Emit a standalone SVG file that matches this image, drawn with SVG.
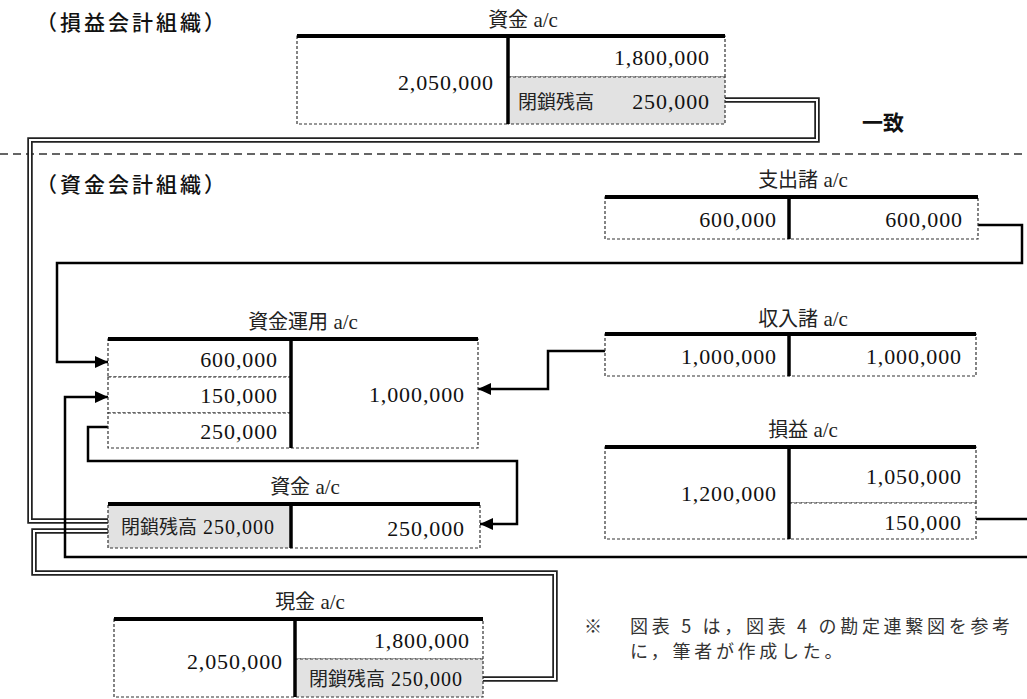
<svg xmlns="http://www.w3.org/2000/svg" xmlns:xlink="http://www.w3.org/1999/xlink" width="1027" height="699" viewBox="0 0 1027 699">
<defs>
<style>
.bg{fill:#fff}
.cell{fill:#fff;stroke:#333;stroke-width:1.2;stroke-dasharray:3 2}
.gray{fill:#e2e2e2;stroke:#333;stroke-width:1.2;stroke-dasharray:3 2}
.thick{stroke:#000;stroke-width:4;fill:none}
.div{stroke:#000;stroke-width:3.5;fill:none}
.num{font-family:'Liberation Serif','Times New Roman',serif;font-size:22px;letter-spacing:0.9px;fill:#111}
.jp{font-family:'Noto Sans CJK JP',sans-serif;font-size:19px;fill:#222}
.title{font-family:'Noto Sans CJK JP',sans-serif;font-size:20px;fill:#222;text-anchor:middle}
.ac{font-family:'Liberation Serif','Times New Roman',serif;font-size:21px}
.lbl{font-family:'Noto Sans CJK JP',sans-serif;font-size:21px;font-weight:500;fill:#111;letter-spacing:3px}
.note{font-family:'Noto Sans CJK JP',sans-serif;font-size:18px;fill:#333;letter-spacing:3.7px}
.line{stroke:#000;stroke-width:2.5;fill:none}
.dblo{stroke:#222;stroke-width:5.5;fill:none}
.dbli{stroke:#fff;stroke-width:2;fill:none}
.dash{stroke:#333;stroke-width:1.5;stroke-dasharray:8 5;fill:none}
</style>
<marker id="arr" markerUnits="userSpaceOnUse" markerWidth="13" markerHeight="12" refX="13" refY="6" orient="auto">
<path d="M0,0 L13,6 L0,12 z" fill="#000"/>
</marker>
<path id="d1" d="M725,100 H817 V140 H30 V521 H108"/>
<path id="d2" d="M108,531 H34 V573 H555 V679 H483"/>
</defs>
<rect class="bg" x="0" y="0" width="1027" height="699"/>

<g id="labels">
<text class="lbl" x="36" y="30">（損益会計組織）</text>
<text class="lbl" x="36" y="192">（資金会計組織）</text>
<text class="lbl" x="862" y="130" style="font-weight:700;letter-spacing:0">一致</text>
<path class="dash" d="M0,154 H1027"/>
</g>

<g id="connectors">
<use xlink:href="#d1" class="dblo"/>
<use xlink:href="#d1" class="dbli"/>
<use xlink:href="#d2" class="dblo"/>
<use xlink:href="#d2" class="dbli"/>
<path class="line" d="M978,225 H1022 V263 H57 V362 H108" marker-end="url(#arr)"/>
<path class="line" d="M605,351 H548 V389 H478" marker-end="url(#arr)"/>
<path class="line" d="M976,519 H1035 V557 H65 V397 H108" marker-end="url(#arr)"/>
<path class="line" d="M108,427 H88 V461 H517 V524 H480" marker-end="url(#arr)"/>
</g>

<g id="shikin-top">
<text class="title" x="523" y="27">資金<tspan class="ac"> a/c</tspan></text>
<rect class="cell" x="297" y="36" width="211" height="88"/>
<rect class="cell" x="508" y="36" width="217" height="41"/>
<rect class="gray" x="508" y="77" width="217" height="47"/>
<path class="thick" d="M297,36 H725"/>
<path class="div" d="M508,36 V124"/>
<text class="num" x="494" y="90" text-anchor="end">2,050,000</text>
<text class="num" x="710" y="65" text-anchor="end">1,800,000</text>
<text class="jp" x="518" y="109">閉鎖残高</text>
<text class="num" x="710" y="109" text-anchor="end">250,000</text>
</g>

<g id="shishutsu">
<text class="title" x="803" y="187">支出諸<tspan class="ac"> a/c</tspan></text>
<rect class="cell" x="605" y="197" width="184" height="42"/>
<rect class="cell" x="789" y="197" width="189" height="42"/>
<path class="thick" d="M605,197 H978"/>
<path class="div" d="M789,197 V239"/>
<text class="num" x="777" y="227" text-anchor="end">600,000</text>
<text class="num" x="963" y="227" text-anchor="end">600,000</text>
</g>

<g id="shikin-unyo">
<text class="title" x="303" y="329">資金運用<tspan class="ac"> a/c</tspan></text>
<rect class="cell" x="108" y="339" width="183" height="38"/>
<rect class="cell" x="108" y="377" width="183" height="36"/>
<rect class="cell" x="108" y="413" width="183" height="35"/>
<rect class="cell" x="291" y="339" width="187" height="109"/>
<path class="thick" d="M108,339 H478"/>
<path class="div" d="M291,339 V448"/>
<text class="num" x="278" y="367" text-anchor="end">600,000</text>
<text class="num" x="278" y="403" text-anchor="end">150,000</text>
<text class="num" x="278" y="439" text-anchor="end">250,000</text>
<text class="num" x="465" y="402" text-anchor="end">1,000,000</text>
</g>

<g id="shunyu">
<text class="title" x="803" y="326">収入諸<tspan class="ac"> a/c</tspan></text>
<rect class="cell" x="605" y="334" width="184" height="42"/>
<rect class="cell" x="789" y="334" width="187" height="42"/>
<path class="thick" d="M605,334 H976"/>
<path class="div" d="M789,334 V376"/>
<text class="num" x="777" y="364" text-anchor="end">1,000,000</text>
<text class="num" x="962" y="364" text-anchor="end">1,000,000</text>
</g>

<g id="soneki">
<text class="title" x="803" y="437">損益<tspan class="ac"> a/c</tspan></text>
<rect class="cell" x="605" y="447" width="184" height="92"/>
<rect class="cell" x="789" y="447" width="187" height="56"/>
<rect class="cell" x="789" y="503" width="187" height="36"/>
<path class="thick" d="M605,447 H976"/>
<path class="div" d="M789,447 V539"/>
<text class="num" x="777" y="501" text-anchor="end">1,200,000</text>
<text class="num" x="962" y="484" text-anchor="end">1,050,000</text>
<text class="num" x="962" y="530" text-anchor="end">150,000</text>
</g>

<g id="shikin-mid">
<text class="title" x="305" y="494">資金<tspan class="ac"> a/c</tspan></text>
<rect class="gray" x="108" y="504" width="183" height="44"/>
<rect class="cell" x="291" y="504" width="189" height="44"/>
<path class="thick" d="M108,504 H480"/>
<path class="div" d="M291,504 V548"/>
<text class="jp" x="121" y="534">閉鎖残高<tspan class="num" style="font-size:20px;letter-spacing:1px"> 250,000</tspan></text>
<text class="num" x="465" y="536" text-anchor="end">250,000</text>
</g>

<g id="genkin">
<text class="title" x="310" y="609">現金<tspan class="ac"> a/c</tspan></text>
<rect class="cell" x="114" y="619" width="181" height="78"/>
<rect class="cell" x="295" y="619" width="188" height="40"/>
<rect class="gray" x="295" y="659" width="188" height="38"/>
<path class="thick" d="M114,619 H483"/>
<path class="div" d="M295,619 V697"/>
<text class="num" x="283" y="669" text-anchor="end">2,050,000</text>
<text class="num" x="470" y="648" text-anchor="end">1,800,000</text>
<text class="jp" x="309" y="686">閉鎖残高<tspan class="num" style="font-size:20px;letter-spacing:1px"> 250,000</tspan></text>
</g>

<g id="note">
<text class="note" x="584" y="633">※</text>
<text class="note" x="630" y="633">図表 5 は，図表 4 の勘定連繋図を参考</text>
<text class="note" x="630" y="658">に，筆者が作成した。</text>
</g>
</svg>
